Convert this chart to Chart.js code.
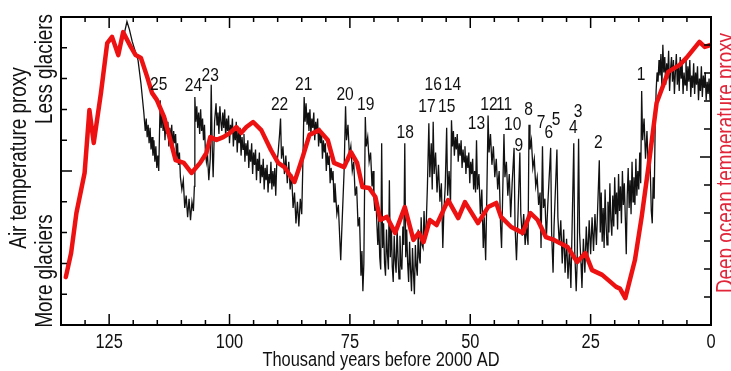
<!DOCTYPE html>
<html>
<head>
<meta charset="utf-8">
<script src="https://cdn.jsdelivr.net/npm/chart.js@4.4.1/dist/chart.umd.min.js"></script>
<style>
  html, body { margin: 0; padding: 0; background: #fff; }
  #wrap { width: 731px; height: 371px; }
</style>
</head>
<body>
<div id="wrap"><canvas id="chart" width="731" height="371"></canvas></div>
<script>
// Arial Narrow look: Liberation Sans squeezed horizontally
const FONT = "'Liberation Sans', Arial, sans-serif";
const NARROW = 0.82;

const xTitle = 'Thousand years before 2000 AD';
const leftTitle = 'Air temperature proxy';
const leftTop = 'Less glaciers';
const leftBottom = 'More glaciers';
const rightTitle = 'Deep ocean temperature proxy';

// Deep ocean temperature proxy (red), [thousand years, proxy]
const oceanSeries = [
  [134.0, 1.71], [132.9, 2.57], [131.8, 4.0], [130.1, 5.43], [129.1, 7.68], [128.2, 6.5],
  [126.7, 8.29], [125.4, 10.07], [124.4, 10.29], [123.1, 9.64], [122.1, 10.46], [120.5, 9.93],
  [119.5, 9.64], [118.4, 9.54], [117.1, 8.86], [116.1, 8.29], [115.1, 8.04], [113.6, 7.43],
  [112.3, 6.61], [111.2, 5.89], [109.5, 5.79], [107.9, 5.43], [106.1, 5.79], [104.8, 6.14],
  [104.0, 6.71], [102.7, 6.61], [101.3, 6.71], [99.9, 6.86], [98.6, 7.07], [97.6, 6.86],
  [96.5, 7.07], [95.1, 7.25], [93.4, 6.96], [91.4, 6.25], [89.9, 5.79], [88.6, 5.64],
  [86.5, 5.11], [84.8, 6.0], [83.4, 6.79], [81.4, 6.96], [79.6, 6.61], [78.3, 5.79],
  [76.2, 5.64], [74.8, 6.18], [73.5, 5.79], [72.4, 4.93], [71.0, 4.89], [69.7, 4.57],
  [68.7, 3.75], [67.3, 3.86], [65.6, 3.29], [63.6, 4.21], [61.8, 3.04], [60.7, 3.29],
  [59.7, 2.96], [58.4, 3.75], [57.0, 3.57], [54.6, 4.46], [52.5, 3.82], [51.1, 4.39],
  [48.4, 3.64], [46.3, 4.21], [44.6, 4.36], [43.6, 3.86], [41.5, 3.5], [39.1, 3.29],
  [37.5, 4.0], [36.0, 3.75], [34.3, 3.14], [32.6, 3.04], [29.8, 2.79], [27.8, 2.25],
  [26.1, 2.57], [24.7, 1.96], [22.6, 1.79], [20.9, 1.54], [19.7, 1.36], [18.9, 1.3],
  [17.8, 0.96], [15.8, 2.32], [14.4, 3.86], [13.0, 5.64], [11.3, 7.93], [9.9, 8.57],
  [8.9, 9.04], [6.5, 9.29], [5.1, 9.54], [2.4, 10.11], [1.3, 9.93], [0.1, 10.0]
];

// Air temperature proxy (black ice-core record), [thousand years, proxy]
const iceSeries = [
  [121.8, 9.5], [121.3, 9.85], [120.8, 9.6], [120.2, 9.2], [119.6, 8.9], [119.0, 8.6],
  [118.4, 7.85], [117.8, 6.9], [117.5, 6.3], [117.3, 6.7], [117.1, 6.1], [116.9, 6.5],
  [116.7, 5.9], [116.5, 6.4], [116.3, 5.7], [116.1, 6.1], [115.9, 5.5], [115.7, 6.0],
  [115.5, 5.3], [115.3, 5.8], [115.1, 5.1], [114.9, 5.5], [114.7, 5.0], [114.4, 7.3],
  [114.2, 6.4], [114.0, 7.0], [113.8, 6.3], [113.6, 6.8], [113.4, 6.0], [113.2, 6.7],
  [113.0, 6.2], [112.8, 6.6], [112.6, 5.8], [112.4, 6.4], [112.2, 6.0], [112.0, 6.5],
  [111.8, 5.7], [111.6, 6.3], [111.4, 5.9], [111.2, 6.2], [111.0, 5.4], [110.8, 5.9],
  [110.6, 5.2], [110.4, 5.6], [110.2, 4.8], [109.9, 4.4], [109.6, 4.7], [109.3, 3.8],
  [109.0, 4.2], [108.7, 3.5], [108.4, 4.1], [108.1, 3.4], [107.8, 4.0], [107.5, 3.7],
  [107.3, 4.5], [107.2, 7.4], [107.0, 6.6], [106.8, 7.1], [106.6, 6.4], [106.4, 6.9],
  [106.2, 6.2], [106.0, 7.0], [105.8, 6.3], [105.6, 6.7], [105.4, 6.0], [105.2, 6.5],
  [105.0, 5.6], [104.8, 5.3], [104.6, 5.6], [104.3, 4.7], [104.0, 5.4], [103.8, 7.8],
  [103.6, 5.8], [103.4, 4.8], [103.1, 6.6], [102.8, 7.2], [102.6, 6.5], [102.4, 6.9],
  [102.2, 6.2], [102.0, 7.1], [101.8, 6.6], [101.6, 6.3], [101.4, 6.9], [101.2, 6.4],
  [101.0, 7.0], [100.8, 6.1], [100.6, 6.7], [100.4, 6.3], [100.2, 6.8], [100.0, 5.9],
  [99.8, 6.5], [99.6, 6.2], [99.4, 6.7], [99.2, 5.8], [99.0, 6.4], [98.8, 6.0],
  [98.6, 6.6], [98.4, 5.6], [98.2, 6.3], [98.0, 5.9], [97.8, 6.4], [97.6, 5.5],
  [97.4, 6.1], [97.2, 5.7], [97.0, 6.2], [96.8, 5.3], [96.6, 5.9], [96.4, 5.5],
  [96.2, 6.0], [96.0, 5.1], [95.8, 5.7], [95.6, 5.3], [95.4, 5.9], [95.2, 4.9],
  [95.0, 5.6], [94.8, 5.2], [94.6, 5.7], [94.4, 4.7], [94.2, 5.4], [94.0, 5.0],
  [93.8, 5.6], [93.6, 4.6], [93.4, 5.2], [93.2, 4.8], [93.0, 5.4], [92.8, 4.4],
  [92.6, 5.1], [92.4, 4.7], [92.2, 5.2], [92.0, 4.3], [91.8, 4.9], [91.6, 4.6],
  [91.4, 5.3], [91.2, 4.4], [91.0, 5.0], [90.8, 4.5], [90.6, 5.1], [90.4, 4.2],
  [90.2, 5.2], [89.9, 5.6], [89.6, 6.2], [89.4, 6.7], [89.2, 5.4], [88.9, 5.8],
  [88.6, 4.9], [88.3, 5.5], [88.0, 4.6], [87.7, 5.3], [87.4, 4.4], [87.1, 4.9],
  [86.8, 3.8], [86.5, 4.3], [86.2, 3.3], [85.9, 4.0], [85.6, 3.2], [85.3, 4.1],
  [85.0, 3.6], [84.8, 5.0], [84.5, 7.4], [84.3, 6.6], [84.1, 7.2], [83.9, 6.5],
  [83.7, 6.9], [83.5, 6.3], [83.3, 7.0], [83.1, 6.2], [82.9, 6.7], [82.7, 6.4],
  [82.5, 6.9], [82.3, 6.0], [82.1, 6.6], [81.9, 6.2], [81.7, 6.7], [81.5, 5.8],
  [81.3, 6.4], [81.1, 5.9], [80.9, 6.3], [80.7, 5.4], [80.5, 6.0], [80.3, 5.6],
  [80.1, 5.9], [79.9, 5.0], [79.7, 5.6], [79.5, 5.2], [79.3, 5.5], [79.1, 4.6],
  [78.9, 5.1], [78.7, 4.7], [78.5, 5.0], [78.3, 4.0], [78.1, 4.6], [77.7, 3.6],
  [77.4, 3.9], [77.1, 2.8], [76.9, 2.1], [76.7, 3.0], [76.2, 5.0], [75.9, 7.1],
  [75.7, 6.0], [75.4, 6.5], [75.1, 5.5], [74.8, 5.8], [74.5, 5.0], [74.2, 5.3],
  [73.9, 4.2], [73.6, 4.5], [73.3, 3.2], [73.0, 3.5], [72.7, 1.6], [72.5, 2.4],
  [72.3, 1.1], [72.1, 2.0], [71.8, 6.75], [71.6, 5.8], [71.3, 6.1], [71.0, 5.3],
  [70.7, 5.6], [70.4, 4.5], [70.2, 5.0], [70.0, 4.1], [69.8, 3.7], [69.6, 4.2],
  [69.4, 3.3], [69.2, 2.6], [69.0, 3.4], [68.8, 2.2], [68.6, 1.8], [68.4, 5.9],
  [68.2, 2.5], [68.0, 3.3], [67.8, 2.0], [67.6, 1.6], [67.4, 3.1], [67.2, 2.3],
  [67.0, 1.8], [66.8, 4.7], [66.6, 2.2], [66.4, 3.3], [66.2, 1.9], [66.0, 1.4],
  [65.8, 2.9], [65.6, 2.1], [65.4, 1.7], [65.2, 3.2], [65.0, 2.2], [64.8, 1.5],
  [64.6, 2.9], [64.4, 2.0], [64.2, 1.8], [64.0, 3.2], [63.8, 2.6], [63.6, 5.9],
  [63.4, 2.2], [63.2, 3.1], [63.0, 2.0], [62.8, 1.4], [62.6, 2.7], [62.4, 1.8],
  [62.2, 1.1], [62.0, 2.5], [61.8, 1.7], [61.6, 1.0], [61.4, 2.6], [61.2, 1.9],
  [61.0, 1.6], [60.8, 3.1], [60.6, 2.2], [60.4, 2.0], [60.2, 3.5], [60.0, 2.6],
  [59.8, 2.5], [59.6, 3.7], [59.4, 2.9], [59.2, 3.0], [58.9, 4.5],
  [58.6, 6.55], [58.4, 4.8], [58.1, 5.9], [57.9, 4.4], [57.7, 6.6], [57.5, 4.9],
  [57.2, 5.6], [56.9, 4.3], [56.6, 5.2], [56.3, 4.0], [56.0, 4.6], [55.7, 2.5],
  [55.5, 3.6], [55.2, 4.5], [54.9, 6.4], [54.7, 4.2], [54.4, 5.0], [54.1, 3.9],
  [53.9, 6.65], [53.7, 5.8], [53.5, 6.3], [53.3, 5.5], [53.1, 6.1], [52.9, 5.7],
  [52.7, 6.2], [52.5, 5.3], [52.3, 5.9], [52.1, 5.5], [51.9, 6.0], [51.7, 5.1],
  [51.5, 5.7], [51.3, 5.3], [51.1, 5.8], [50.9, 4.9], [50.7, 5.5], [50.5, 5.1],
  [50.3, 5.6], [50.1, 4.6], [49.9, 5.3], [49.7, 4.9], [49.5, 5.4], [49.3, 4.4],
  [49.1, 5.0], [48.9, 4.3], [48.7, 6.0], [48.5, 4.4], [48.2, 4.9], [47.9, 3.6],
  [47.6, 4.4], [47.3, 2.5], [47.1, 3.5], [46.8, 2.1], [46.6, 3.8], [46.3, 6.8],
  [46.1, 5.6], [45.8, 6.2], [45.5, 5.2], [45.2, 5.8], [44.9, 4.8], [44.6, 5.4],
  [44.3, 4.4], [44.0, 5.0], [43.7, 3.2], [43.5, 2.5], [43.0, 6.2], [42.8, 4.8],
  [42.5, 5.3], [42.2, 4.2], [41.9, 4.9], [41.6, 3.5], [41.3, 4.6], [40.9, 5.75],
  [40.7, 3.2], [40.4, 2.1], [40.2, 3.0], [39.7, 5.6], [39.5, 3.6], [39.2, 2.9],
  [38.9, 3.6], [38.6, 2.6], [38.3, 3.2], [38.0, 2.6], [37.8, 6.5], [37.6, 5.7],
  [37.3, 6.0], [37.0, 5.1], [36.7, 5.4], [36.4, 4.5], [36.1, 4.8], [35.8, 3.9],
  [35.5, 4.3], [35.3, 2.5], [35.0, 5.8], [34.8, 3.8], [34.5, 4.1], [34.2, 2.8],
  [33.9, 3.9], [33.3, 5.75], [33.1, 3.0], [32.8, 1.7], [32.6, 3.2], [32.0, 5.7],
  [31.8, 3.5], [31.5, 2.6], [31.2, 3.4], [30.9, 2.0], [30.6, 3.1], [30.3, 1.7],
  [30.0, 2.8], [29.7, 1.5], [29.4, 2.5], [29.1, 1.2], [28.5, 5.9], [28.3, 2.4],
  [28.0, 1.1], [27.8, 2.0], [27.5, 6.05], [27.3, 3.0], [27.0, 2.0], [26.8, 1.2],
  [26.5, 2.8], [26.2, 1.7], [25.9, 3.2], [25.6, 2.1], [25.3, 3.4], [25.0, 2.3],
  [24.7, 3.5], [24.4, 2.4], [24.1, 3.6], [23.8, 2.6], [23.2, 5.35], [23.0, 3.0],
  [22.8, 4.3], [22.6, 2.7], [22.4, 3.8], [22.2, 2.5], [22.0, 4.4], [21.8, 3.3],
  [21.6, 2.6], [21.4, 4.0], [21.2, 3.0], [21.0, 4.6], [20.8, 3.4], [20.6, 2.9],
  [20.4, 4.2], [20.2, 3.2], [20.0, 4.8], [19.8, 3.6], [19.6, 4.3], [19.4, 3.1],
  [19.2, 4.9], [19.0, 3.7], [18.8, 4.5], [18.6, 3.3], [18.4, 5.0], [18.2, 3.9],
  [18.0, 4.6], [17.8, 3.5], [17.6, 2.3], [17.4, 4.2], [17.2, 5.1], [17.0, 3.8],
  [16.8, 4.7], [16.6, 3.6], [16.4, 5.3], [16.2, 4.0], [16.0, 4.8], [15.8, 3.9],
  [15.6, 5.4], [15.4, 4.2], [15.2, 5.0], [15.0, 4.4], [14.8, 5.6], [14.6, 4.6],
  [14.4, 7.6], [14.2, 6.0], [13.9, 6.7], [13.6, 5.4], [13.3, 6.3], [13.0, 4.9],
  [12.7, 5.6], [12.4, 3.7], [12.2, 3.3], [12.0, 4.8], [11.8, 4.1], [11.6, 6.4],
  [11.4, 7.6], [11.2, 8.2], [11.0, 7.9], [10.8, 8.6], [10.6, 8.1], [10.4, 8.8],
  [10.2, 7.7], [10.0, 9.1], [9.8, 8.2], [9.6, 8.7], [9.4, 7.8], [9.2, 8.5],
  [9.0, 8.0], [8.8, 8.9], [8.6, 7.6], [8.4, 8.3], [8.2, 8.7], [8.0, 7.9],
  [7.8, 8.6], [7.6, 7.5], [7.4, 8.2], [7.2, 8.8], [7.0, 7.8], [6.8, 8.4],
  [6.6, 7.6], [6.4, 8.7], [6.2, 8.0], [6.0, 8.5], [5.8, 7.5], [5.6, 8.2],
  [5.4, 7.8], [5.2, 8.7], [5.0, 7.6], [4.8, 8.4], [4.6, 7.9], [4.4, 8.6],
  [4.2, 7.4], [4.0, 8.1], [3.8, 7.7], [3.6, 8.5], [3.4, 7.5], [3.2, 8.2],
  [3.0, 7.8], [2.8, 8.4], [2.6, 7.3], [2.4, 8.0], [2.2, 7.6], [2.0, 8.4],
  [1.8, 7.4], [1.6, 8.1], [1.4, 7.7], [1.2, 8.2], [1.0, 7.3], [0.8, 7.9],
  [0.6, 7.5], [0.4, 8.0], [0.2, 7.3], [0.0, 7.7]
];

// Dansgaard-Oeschger event numbers and where they are written
const eventNames = ['25', '24', '23', '22', '21', '20', '19', '18', '17', '16', '15', '14', '13',
                    '12', '11', '10', '9', '8', '7', '6', '5', '4', '3', '2', '1'];
const eventAge   = [114.7, 107.5, 104.0, 89.6, 84.6, 76.0, 71.7, 63.5, 59.0, 57.7, 54.9, 53.7, 48.7,
                    46.1, 43.0, 41.2, 39.9, 37.9, 35.3, 33.7, 32.2, 28.6, 27.6, 23.4, 14.5];
const eventLevel = [7.79, 7.76, 8.08, 7.14, 7.79, 7.47, 7.14, 6.23, 7.08, 7.79, 7.08, 7.79, 6.53,
                    7.14, 7.14, 6.49, 5.81, 6.98, 6.56, 6.23, 6.66, 6.40, 6.92, 5.91, 8.12];

const toPoints = rows => rows.map(r => ({ x: r[0], y: r[1] }));

function narrowText(ctx, text, x, y, size, opts) {
    opts = opts || {};
    ctx.save();
    ctx.translate(x, y);
    if (opts.vertical) ctx.rotate(-Math.PI / 2);
    ctx.scale(NARROW, 1);
    ctx.font = size + 'px ' + FONT;
    ctx.fillStyle = opts.color || '#111';
    ctx.textAlign = 'center';
    ctx.textBaseline = opts.baseline || 'alphabetic';
    ctx.fillText(text, 0, 0);
    ctx.restore();
}

const decorations = {
  id: 'decorations',
  afterDraw(chart) {
    const { ctx, chartArea: a, scales } = chart;
    const xs = scales.x, yl = scales.y, yr = scales.y2;
    ctx.save();

    // inward tick marks on all four sides
    ctx.strokeStyle = '#000';
    ctx.lineWidth = 1.5;
    ctx.beginPath();
    xs.ticks.forEach(t => {
      const px = xs.getPixelForValue(t.value);
      const len = t.value % 25 === 0 ? 11 : 5;
      ctx.moveTo(px, a.bottom); ctx.lineTo(px, a.bottom - len);
      ctx.moveTo(px, a.top); ctx.lineTo(px, a.top + len);
    });
    yl.ticks.forEach(t => {
      if (t.value <= yl.min || t.value >= yl.max) return;
      const py = yl.getPixelForValue(t.value);
      ctx.moveTo(a.left, py); ctx.lineTo(a.left + (t.value === 5 ? 11 : 6), py);
    });
    yr.ticks.forEach(t => {
      if (t.value <= yr.min || t.value >= yr.max) return;
      const py = yr.getPixelForValue(t.value);
      ctx.moveTo(a.right, py); ctx.lineTo(a.right - (t.value === 6 ? 11 : 7), py);
    });
    ctx.stroke();

    ctx.lineWidth = 2;
    ctx.strokeRect(a.left, a.top, a.right - a.left, a.bottom - a.top);
    ctx.restore();

    // x tick labels and title
    xs.ticks.forEach(t => {
      if (t.value % 25 !== 0) return;
      narrowText(ctx, String(t.value), xs.getPixelForValue(t.value), a.bottom + 23, 20);
    });
    narrowText(ctx, xTitle, (a.left + a.right) / 2 - 5, a.bottom + 41, 20);

    // event numbers
    eventNames.forEach((name, i) => {
      narrowText(ctx, name, xs.getPixelForValue(eventAge[i]), yl.getPixelForValue(eventLevel[i]), 19,
                 { baseline: 'middle' });
    });

    // side titles
    narrowText(ctx, leftTitle, 26, 158, 23, { vertical: true });
    narrowText(ctx, leftTop, 52, 69, 23, { vertical: true });
    narrowText(ctx, leftBottom, 52, 271, 23, { vertical: true });
    narrowText(ctx, rightTitle, 733, 163, 23, { vertical: true, color: '#e2263a' });
  }
};

new Chart(document.getElementById('chart'), {
  type: 'line',
  data: {
    datasets: [
      {
        label: rightTitle,
        data: toPoints(oceanSeries),
        yAxisID: 'y2',
        borderColor: '#ee1111',
        borderWidth: 4.5,
        borderJoinStyle: 'round',
        borderCapStyle: 'round',
        pointRadius: 0,
        tension: 0
      },
      {
        label: leftTitle,
        data: toPoints(iceSeries),
        yAxisID: 'y',
        borderColor: '#111111',
        borderWidth: 1.3,
        pointRadius: 0,
        tension: 0
      }
    ]
  },
  options: {
    responsive: false,
    animation: false,
    layout: { padding: { left: 61, right: 20, top: 17, bottom: 0 } },
    plugins: { legend: { display: false }, tooltip: { enabled: false } },
    scales: {
      x: {
        type: 'linear',
        reverse: true,
        min: 0,
        max: 135,
        afterFit(scale) { scale.height = 46; },
        grid: { display: false, drawTicks: false },
        border: { display: false },
        ticks: { display: false, stepSize: 5, autoSkip: false }
      },
      y: {
        position: 'left',
        min: 0,
        max: 10,
        afterFit(scale) { scale.width = 0; },
        ticks: { display: false, stepSize: 1 },
        grid: { display: false },
        border: { display: false }
      },
      y2: {
        position: 'right',
        min: 0,
        max: 11,
        afterFit(scale) { scale.width = 0; },
        ticks: { display: false, stepSize: 1 },
        grid: { display: false },
        border: { display: false }
      }
    }
  },
  plugins: [decorations]
});
</script>
</body>
</html>
